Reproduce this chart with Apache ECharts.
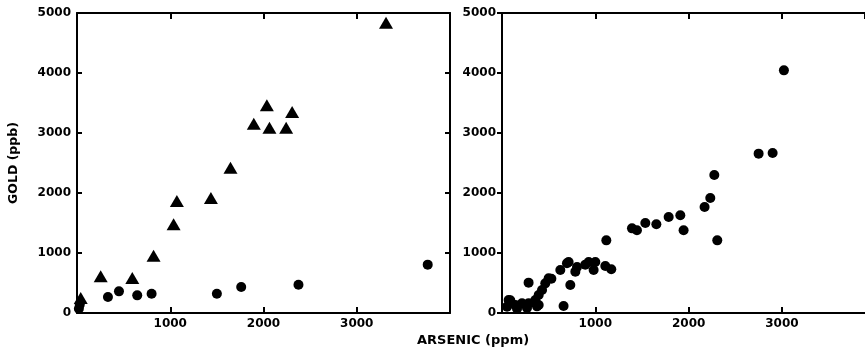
<!DOCTYPE html>
<html>
<head>
<meta charset="utf-8">
<script src="https://cdn.jsdelivr.net/npm/echarts@6/dist/echarts.min.js"></script>
<style>
  html, body { margin: 0; padding: 0; background: #fff; }
  #chart { width: 865px; height: 351px; }
</style>
</head>
<body>
<div id="chart"></div>
<script>
// left panel: triangles and circles, [arsenic ppm, gold ppb]
const leftTriangles = [
  [40, 250], [254, 611], [593, 583], [821, 956], [1036, 1478], [1071, 1867],
  [1436, 1917], [1646, 2422], [1896, 3156], [2036, 3461], [2064, 3089],
  [2243, 3089], [2307, 3350], [3314, 4839]
];
const leftCircles = [
  [20, 70], [30, 140], [332, 267], [450, 361], [646, 294], [800, 322],
  [1500, 322], [1761, 433], [2375, 472], [3761, 806]
];
// right panel circles
const rightCircles = [
  [3021, 4044], [2750, 2656], [2900, 2667], [2275, 2300], [2232, 1917], [2171, 1767],
  [2307, 1211], [1911, 1628], [1946, 1378], [1786, 1600], [1654, 1478], [1536, 1500],
  [1446, 1378], [1393, 1411], [1118, 1211], [1107, 783], [1171, 728], [1000, 850],
  [982, 717], [929, 850], [893, 806], [804, 767], [786, 689], [714, 850], [696, 828],
  [625, 717], [732, 467], [660, 117], [529, 572], [500, 578], [464, 494], [429, 383],
  [393, 300], [285, 506], [357, 217], [393, 133], [375, 111], [285, 161], [214, 161],
  [143, 133], [89, 211], [71, 217], [54, 106], [161, 72], [268, 83]
];
const xLabels = [1000, 2000, 3000];
const yTicks = { min: 0, max: 5000, interval: 1000 };

const font = 'DejaVu Sans';
const black = '#000';

const chart = echarts.init(document.getElementById('chart'));

// right panel is cut off by the page edge, so its x range stops short of 4000
function xAxes(gridIndex, max) {
  const base = {
    type: 'value', gridIndex: gridIndex,
    min: 0, max: max, interval: 1000,
    splitLine: { show: false },
    axisLine: { show: true, onZero: false, lineStyle: { color: black, width: 2 } },
    axisTick: { show: true, inside: true, length: 6, lineStyle: { color: black, width: 2 } }
  };
  return [
    Object.assign({}, base, {
      position: 'bottom',
      axisLabel: {
        color: black, fontFamily: font, fontWeight: 'bold', fontSize: 12, margin: 5,
        showMaxLabel: false,
        formatter: v => xLabels.includes(v) ? String(v) : ''
      }
    }),
    Object.assign({}, base, { position: 'top', axisLabel: { show: false } })
  ];
}

function yAxes(gridIndex, tickInside, withName, rightBorder) {
  const base = {
    type: 'value', gridIndex: gridIndex,
    min: yTicks.min, max: yTicks.max, interval: yTicks.interval,
    splitLine: { show: false },
    axisLine: { show: true, onZero: false, lineStyle: { color: black, width: 2 } },
    axisTick: { show: true, inside: tickInside, length: 5, lineStyle: { color: black, width: 2 } }
  };
  const left = Object.assign({}, base, {
    position: 'left',
    axisLabel: {
      color: black, fontFamily: font, fontWeight: 'bold', fontSize: 12, margin: 6,
      formatter: v => String(v)
    }
  });
  if (withName) {
    Object.assign(left, {
      name: 'GOLD (ppb)', nameLocation: 'middle', nameRotate: 90, nameGap: 57,
      nameTextStyle: { color: black, fontFamily: font, fontWeight: 'bold', fontSize: 12.5 }
    });
  }
  return [
    left,
    Object.assign({}, base, {
      position: 'right', show: rightBorder, axisLabel: { show: false },
      axisTick: { show: true, inside: true, length: 5, lineStyle: { color: black, width: 2 } }
    })
  ];
}

const option = {
  animation: false,
  backgroundColor: '#fff',
  grid: [
    { left: 77, top: 13, width: 373, height: 300 },
    { left: 502, top: 13, width: 363, height: 300 }
  ],
  xAxis: [...xAxes(0, 4000), ...xAxes(1, 3890)],
  yAxis: [...yAxes(0, true, true, true), ...yAxes(1, false, false, false)],
  graphic: [{
    type: 'text', left: 417, top: 334,
    style: { text: 'ARSENIC (ppm)', fill: black, font: 'bold 13px "DejaVu Sans"' }
  }],
  series: [
    {
      type: 'scatter', xAxisIndex: 0, yAxisIndex: 0, data: leftTriangles,
      symbol: 'triangle', symbolSize: [14, 12], clip: false,
      itemStyle: { color: black, opacity: 1 }
    },
    {
      type: 'scatter', xAxisIndex: 0, yAxisIndex: 0, data: leftCircles,
      symbol: 'circle', symbolSize: 10, clip: false,
      itemStyle: { color: black, opacity: 1 }
    },
    {
      type: 'scatter', xAxisIndex: 2, yAxisIndex: 2, data: rightCircles,
      symbol: 'circle', symbolSize: 10, clip: false,
      itemStyle: { color: black, opacity: 1 }
    }
  ]
};

chart.setOption(option);
</script>
</body>
</html>
